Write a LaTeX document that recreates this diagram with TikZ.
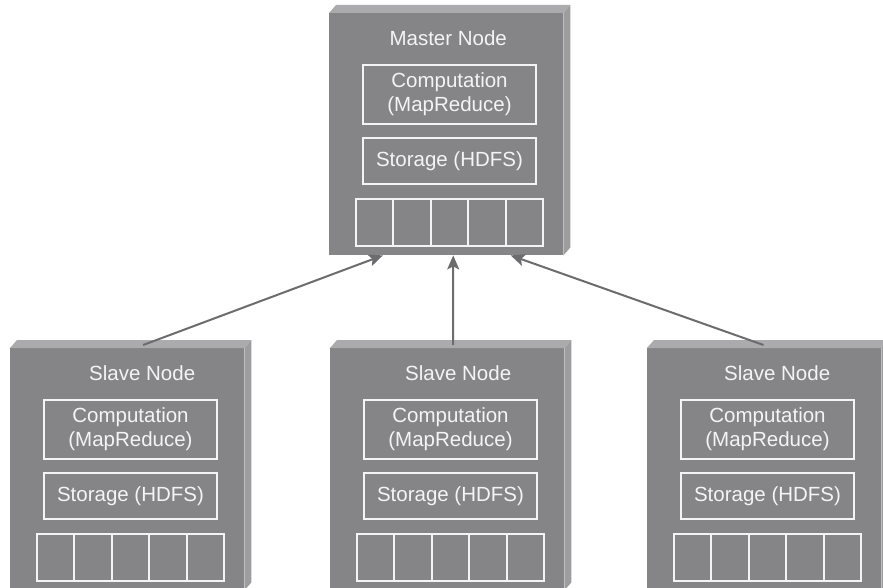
\documentclass[tikz,border=0pt]{standalone}
\usepackage{fontspec}
\setmainfont{Liberation Sans}
\usetikzlibrary{calc,arrows.meta}

\definecolor{facegray}{HTML}{858588}
\definecolor{bevelgray}{HTML}{ABABAD}
\definecolor{sidegray}{HTML}{9D9D9F}
\definecolor{rulewhite}{HTML}{F4F4F4}
\definecolor{linkgray}{HTML}{6C6C6E}

\tikzset{
  face/.style={fill=facegray, draw=none, minimum width=234pt, minimum height=242pt, inner sep=0pt},
  bevel/.style={fill=bevelgray},
  side/.style={fill=sidegray},
  title/.style={text=rulewhite, font=\fontsize{20.5}{24}\selectfont, inner sep=0pt},
  unit/.style={draw=rulewhite, line width=2pt, text=rulewhite, align=center,
    font=\fontsize{20.5}{24}\selectfont, minimum width=173pt, inner sep=0pt},
  cell/.style={draw=rulewhite, line width=2pt, minimum width=37.4pt, minimum height=47pt, inner sep=0pt},
  link/.style={draw=linkgray, line width=2pt, -{Stealth[length=14pt,width=12pt,inset=3pt]}}
}

% #1 name, #2 left x, #3 top y, #4 title, #5 horizontal shift of the title
\newcommand\hadoopnode[5]{%
  \node[face, anchor=north west] (#1) at (#2,#3) {};
  \fill[bevel] (#1.north west) -- ++(7,-8) -- ($(#1.north east)+(7,-8)$) -- (#1.north east) -- cycle;
  \fill[side] (#1.north east) -- ++(7,-8) -- ($(#1.south east)+(7,-8)$) -- (#1.south east) -- cycle;
  \node[title] (#1-title) at ($(#1.north)+(#5,25)$) {#4};
  \node[unit, anchor=north west, minimum height=59pt] (#1-comp) at ($(#1.north west)+(33,51)$) {Computation\\(MapReduce)};
  \node[unit, anchor=north west, minimum height=46pt] (#1-store) at ($(#1.north west)+(33,124)$) {Storage (HDFS)};
  \foreach \k in {0,...,4}
    \node[cell, anchor=north west] (#1-cell\k) at ($(#1.north west)+(26+37.4*\k,185)$) {};
}

\begin{document}
\begin{tikzpicture}[x=1pt, y=-1pt]
  \useasboundingbox (0,0) rectangle (883,588);
  \clip (0,0) rectangle (883,588);

  \hadoopnode{master}{329}{13}{Master Node}{2}
  \hadoopnode{slaveA}{10}{348}{Slave Node}{15}
  \hadoopnode{slaveB}{330}{348}{Slave Node}{11}
  \hadoopnode{slaveC}{647}{348}{Slave Node}{13}

  % arrow ends on the master's lower edge
  \coordinate (inA) at ($(master.south west)!0.23!(master.south east)$);
  \coordinate (inB) at ($(master.south west)!0.53!(master.south east)$);
  \coordinate (inC) at ($(master.south west)!0.775!(master.south east)$);
  % arrow starts on the slaves' top bevels
  \coordinate (outA) at ($(slaveA.north west)!0.568!(slaveA.north east)+(0,-3)$);
  \coordinate (outB) at ($(slaveB.north west)!0.525!(slaveB.north east)+(0,-3)$);
  \coordinate (outC) at ($(slaveC.north west)!0.497!(slaveC.north east)+(0,-3)$);

  \draw[link] (outA) -- (inA);
  \draw[link] (outB) -- (inB);
  \draw[link] (outC) -- (inC);
\end{tikzpicture}
\end{document}
